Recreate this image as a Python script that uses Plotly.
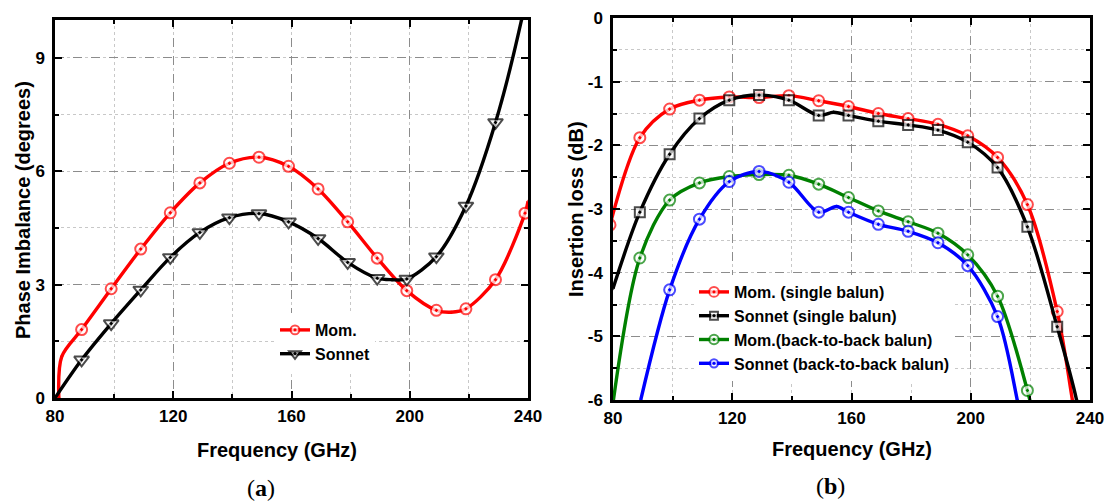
import plotly.graph_objects as go

# ---------------- data (a) Phase imbalance ----------------
freq_a_mom = [81.3, 82.3, 89, 99, 109, 119, 129, 139, 149, 159, 169, 179, 189, 199, 209, 214, 219, 229, 239, 240]
phase_mom = [0.0, 1.1, 1.81, 2.89, 3.94, 4.90, 5.69, 6.21, 6.37, 6.13, 5.53, 4.66, 3.70, 2.84, 2.32, 2.27, 2.36, 3.13, 4.89, 5.2]

freq_a_son = [80, 89, 99, 109, 119, 129, 139, 149, 159, 169, 179, 189, 194, 199, 209, 219, 229, 237.8, 240]
phase_son = [0.0, 1.01, 1.97, 2.86, 3.72, 4.38, 4.77, 4.88, 4.66, 4.22, 3.59, 3.17, 3.13, 3.15, 3.74, 5.08, 7.29, 10.0, 10.9]

# ---------------- data (b) Insertion loss ----------------
freq_b_mom_s = [79, 89, 99, 109, 119, 129, 139, 149, 159, 169, 179, 189, 199, 209, 219, 229, 234.1, 236]
il_mom_s = [-3.25, -1.88, -1.43, -1.29, -1.24, -1.25, -1.22, -1.30, -1.39, -1.50, -1.58, -1.67, -1.85, -2.19, -2.93, -4.61, -6.0, -6.55]

freq_b_son_s = [80, 89, 99, 109, 119, 129, 139, 149, 154, 159, 169, 179, 189, 199, 209, 219, 229, 235.5, 237]
il_son_s = [-4.25, -3.05, -2.14, -1.58, -1.29, -1.21, -1.29, -1.53, -1.48, -1.53, -1.62, -1.68, -1.76, -1.95, -2.35, -3.28, -4.85, -6.0, -6.4]

freq_b_mom_b = [80, 89, 99, 109, 119, 129, 139, 149, 159, 169, 179, 189, 199, 209, 219, 221]
il_mom_b = [-6.05, -3.77, -2.86, -2.59, -2.49, -2.46, -2.47, -2.61, -2.82, -3.03, -3.20, -3.38, -3.72, -4.37, -5.85, -6.25]

freq_b_son_b = [89.3, 99, 109, 119, 129, 139, 149, 155, 159, 169, 179, 189, 199, 209, 215.6, 217]
il_son_b = [-6.0, -4.27, -3.16, -2.57, -2.41, -2.58, -3.05, -2.96, -3.05, -3.24, -3.35, -3.53, -3.89, -4.69, -6.0, -6.35]

x_ticks = [80, 120, 160, 200, 240]
ya_ticks = [0, 3, 6, 9]
yb_ticks = [0, -1, -2, -3, -4, -5, -6]
yb_ticktext = ["0", "-1", "-2", "-3", "-4", "-5", "-6"]

legend_a = ["Mom.", "Sonnet"]
legend_b = ["Mom. (single balun)", "Sonnet (single balun)", "Mom.(back-to-back balun)", "Sonnet (back-to-back balun)"]

# ---------------- layout helpers ----------------
W, H = 1107, 502
FONT = "Liberation Sans, Arial, sans-serif"


def px(x):
    return x / W


def py(y):
    return 1 - y / H


def msizes(xs, size):
    return [size if (float(x).is_integer() and int(x) % 10 == 9) else 0 for x in xs]


def trace(xs, ys, name, color, symbol, size, xa, ya, legend):
    return go.Scatter(
        x=xs, y=ys, name=name, mode="lines+markers",
        line=dict(color=color, width=3.4, shape="spline", smoothing=0.9),
        marker=dict(symbol=symbol, size=msizes(xs, size), color="white",
                    line=dict(color=color, width=2)),
        xaxis=xa, yaxis=ya, legend=legend,
    )


fig = go.Figure()
fig.add_trace(trace(freq_a_mom, phase_mom, legend_a[0], "#ff0000", "circle-dot", 11, "x", "y", "legend"))
fig.add_trace(trace(freq_a_son, phase_son, legend_a[1], "#000000", "triangle-down-dot", 13, "x", "y", "legend"))
fig.add_trace(trace(freq_b_mom_s, il_mom_s, legend_b[0], "#ff0000", "circle-dot", 11, "x2", "y2", "legend2"))
fig.add_trace(trace(freq_b_son_s, il_son_s, legend_b[1], "#000000", "square-dot", 10, "x2", "y2", "legend2"))
fig.add_trace(trace(freq_b_mom_b, il_mom_b, legend_b[2], "#008000", "circle-dot", 11, "x2", "y2", "legend2"))
fig.add_trace(trace(freq_b_son_b, il_son_b, legend_b[3], "#0000ff", "circle-dot", 11, "x2", "y2", "legend2"))

tickfont = dict(family=FONT, size=17, color="black", weight="bold")
common = dict(
    showline=True, linecolor="black", linewidth=2.5, mirror="ticks",
    ticks="inside", ticklen=7, tickwidth=2, tickcolor="black",
    showgrid=True, gridcolor="#8c8c8c", griddash="dash", gridwidth=1,
    zeroline=False, tickfont=tickfont, automargin=False,
)


def minor(dtick):
    return dict(dtick=dtick, ticks="inside", ticklen=4, tickwidth=2,
                tickcolor="black", showgrid=True, gridcolor="#c8c8c8",
                griddash="dot", gridwidth=1)


def xaxis(domain, anchor):
    return dict(common, domain=domain, anchor=anchor, range=[80, 240],
                tickmode="array", tickvals=x_ticks, ticklabelstandoff=1,
                minor=dict(minor(20), tick0=80))


legend_font = dict(family=FONT, size=16, color="black", weight="bold")
fig.update_layout(
    width=W, height=H,
    margin=dict(l=0, r=0, t=0, b=0, autoexpand=False),
    paper_bgcolor="white", plot_bgcolor="white",
    showlegend=True,
    xaxis=xaxis([px(55), px(528)], "y"),
    yaxis=dict(common, domain=[py(398), py(20)], anchor="x", range=[0, 10],
               tickmode="array", tickvals=ya_ticks, ticklabelstandoff=4,
               minor=dict(minor(1.5), tick0=0)),
    xaxis2=xaxis([px(613), px(1090)], "y2"),
    yaxis2=dict(common, domain=[py(400), py(18)], anchor="x2", range=[-6, 0],
                tickmode="array", tickvals=yb_ticks, ticktext=yb_ticktext, ticklabelstandoff=4,
                minor=dict(minor(0.5), tick0=0)),
    legend=dict(x=px(275), y=py(313), xanchor="left", yanchor="top",
                bgcolor="white", borderwidth=0, itemwidth=30, font=legend_font),
    legend2=dict(x=px(694), y=py(275), xanchor="left", yanchor="top",
                 bgcolor="white", borderwidth=0, itemwidth=30, font=legend_font),
)

title_font = dict(family=FONT, size=20, color="black", weight="bold")
cap_font = dict(family="Liberation Serif, Times New Roman, serif", size=24, color="black")
annots = [
    dict(text="Frequency (GHz)", x=px(277), y=py(450), font=title_font),
    dict(text="Frequency (GHz)", x=px(852), y=py(449), font=title_font),
    dict(text="Phase Imbalance (degrees)", x=px(23), y=py(210), font=title_font, textangle=-90),
    dict(text="Insertion loss (dB)", x=px(576), y=py(209), font=title_font, textangle=-90),
    dict(text="(<b>a</b>)", x=px(261), y=py(488), font=cap_font),
    dict(text="(<b>b</b>)", x=px(830), y=py(486), font=cap_font),
]
for a in annots:
    fig.add_annotation(xref="paper", yref="paper", showarrow=False,
                       xanchor="center", yanchor="middle", **a)

fig.write_html(
    "out.html",
    config={"displayModeBar": False},
    post_script="document.body.style.margin='0';document.body.style.overflow='hidden';",
)
